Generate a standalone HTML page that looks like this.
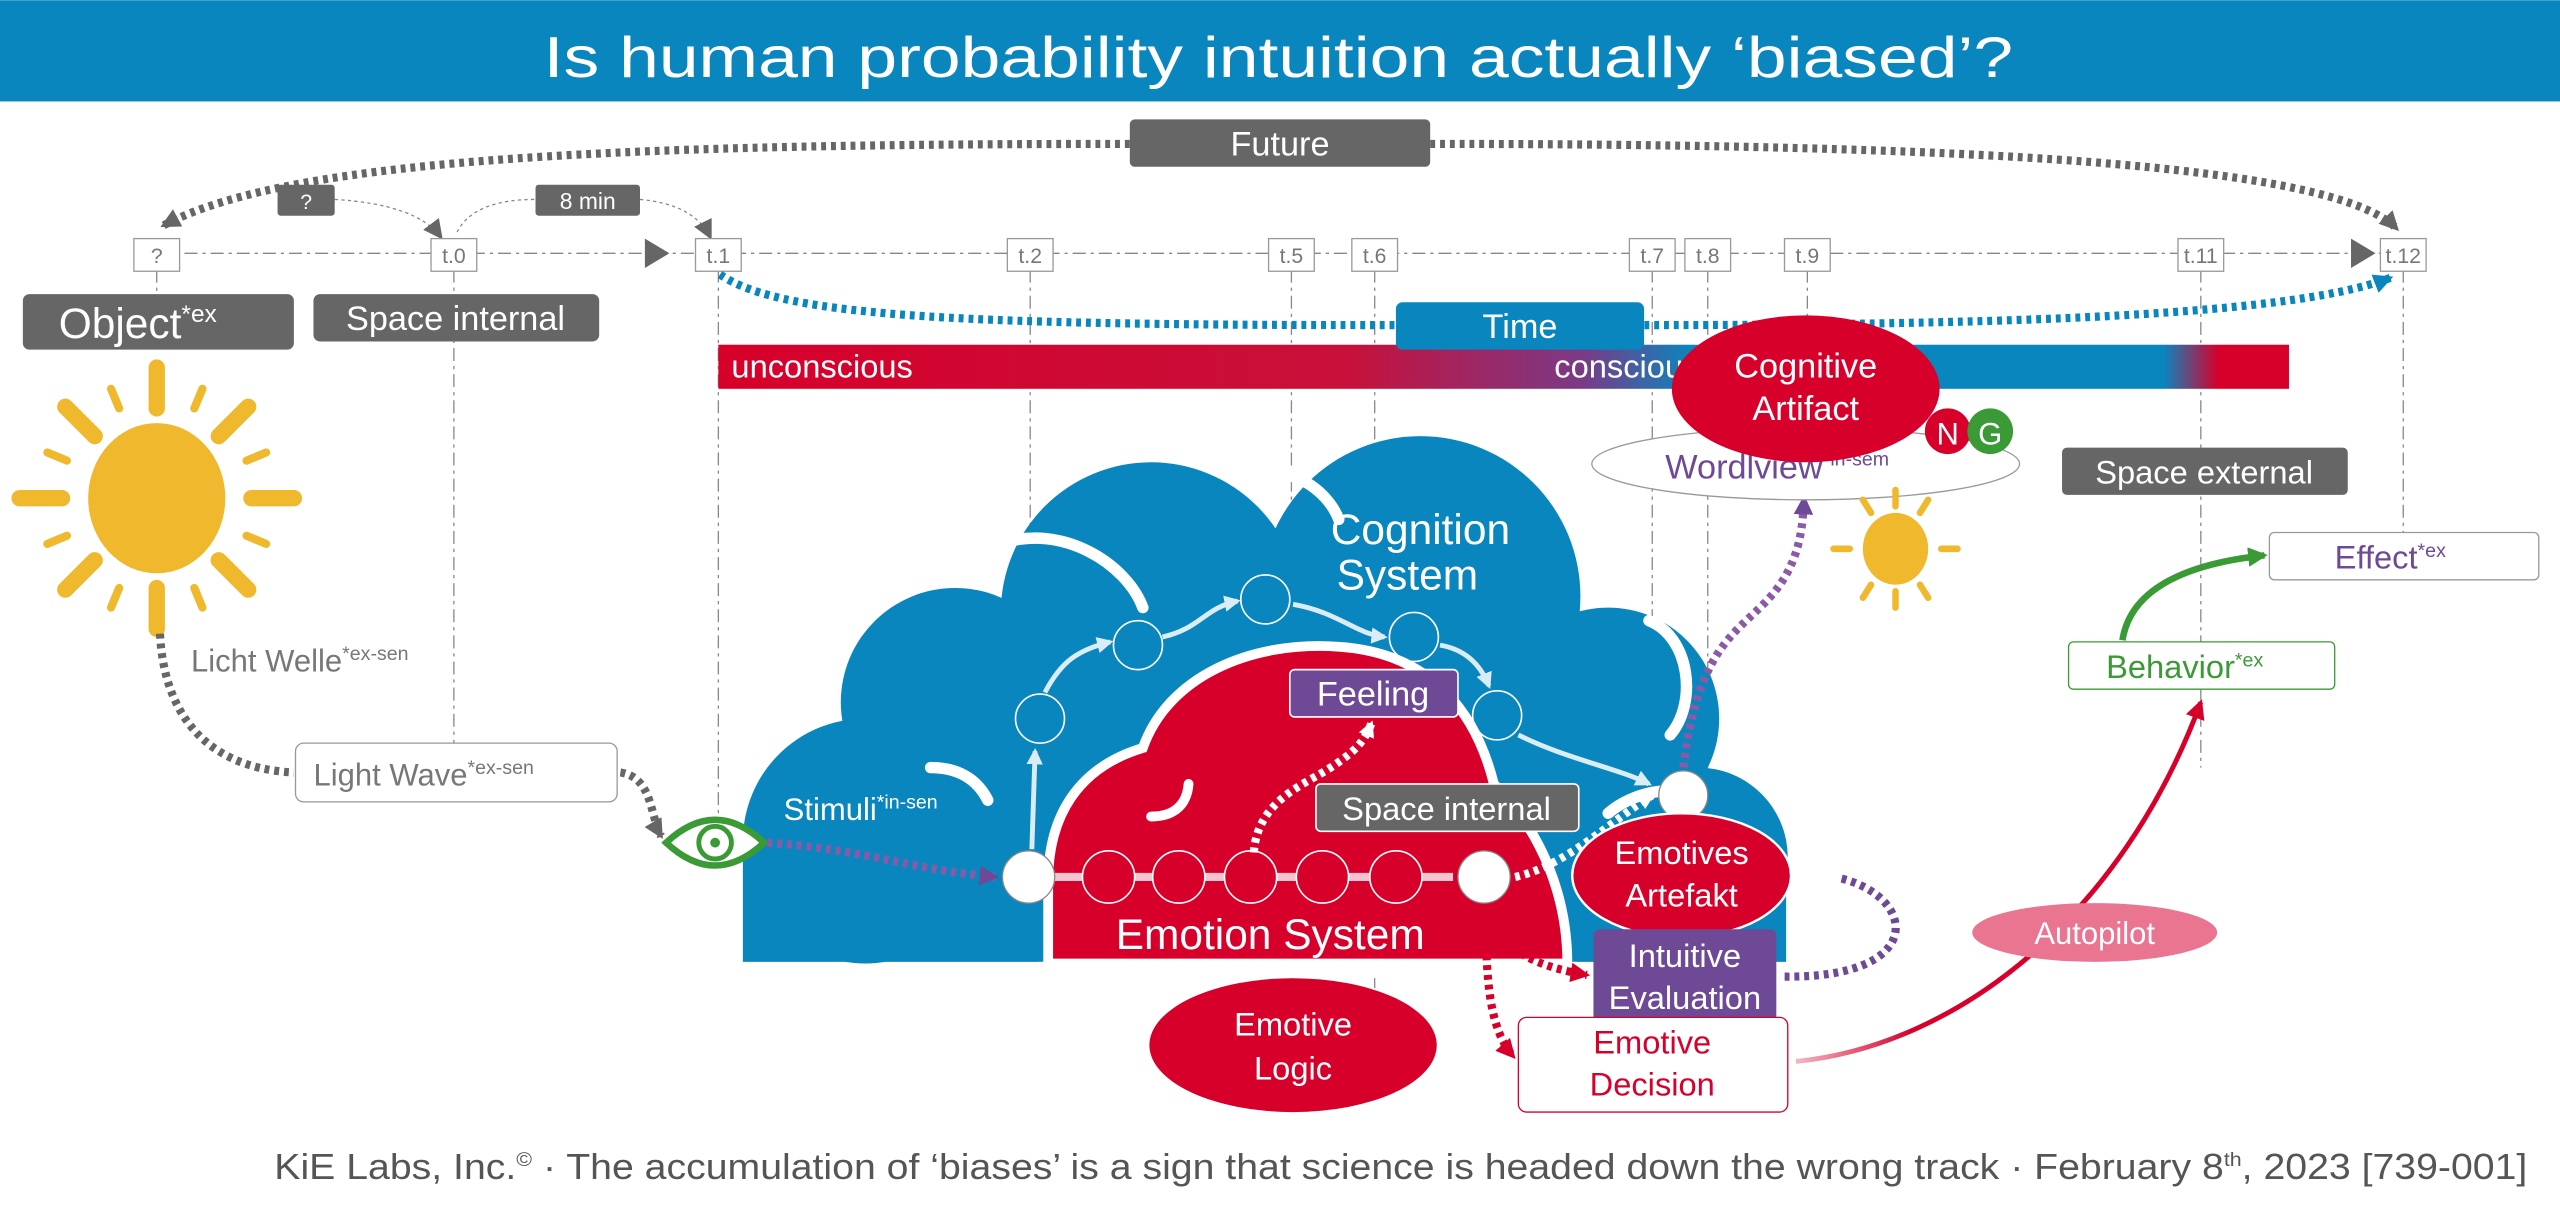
<!DOCTYPE html>
<html><head><meta charset="utf-8"><style>
html,body{margin:0;padding:0;background:#fff;}
svg{display:block;font-family:"Liberation Sans",sans-serif;}
</style></head><body>
<svg width="2560" height="1207" viewBox="0 0 1568 739" xmlns="http://www.w3.org/2000/svg">
<defs>
<linearGradient id="bar" x1="440" x2="1402" y1="0" y2="0" gradientUnits="userSpaceOnUse">
<stop offset="0" stop-color="#d6002a"/><stop offset="0.4" stop-color="#c8103a"/>
<stop offset="0.55" stop-color="#7a3a86"/><stop offset="0.62" stop-color="#0a86be"/>
<stop offset="0.92" stop-color="#0a86be"/><stop offset="0.955" stop-color="#d6002a"/><stop offset="1" stop-color="#d6002a"/>
</linearGradient>
<linearGradient id="redc" x1="1095" x2="1350" y1="0" y2="0" gradientUnits="userSpaceOnUse">
<stop offset="0" stop-color="#f5c4cf"/><stop offset="0.3" stop-color="#d6002a"/><stop offset="1" stop-color="#d6002a"/>
</linearGradient>
<marker id="ag" markerWidth="12" markerHeight="12" refX="10" refY="6" orient="auto" markerUnits="userSpaceOnUse"><path d="M0,0L12,6L0,12z" fill="#666"/></marker>
<marker id="agS" markerWidth="12" markerHeight="12" refX="10" refY="6" orient="auto" markerUnits="userSpaceOnUse"><path d="M0,0L12,6L0,12z" fill="#666"/></marker>
<marker id="ab" markerWidth="12" markerHeight="12" refX="10" refY="6" orient="auto" markerUnits="userSpaceOnUse"><path d="M0,0L12,6L0,12z" fill="#0a86be"/></marker>
<marker id="ap" markerWidth="12" markerHeight="12" refX="10" refY="6" orient="auto" markerUnits="userSpaceOnUse"><path d="M0,0L12,6L0,12z" fill="#6e4a96"/></marker>
<marker id="ar" markerWidth="12" markerHeight="12" refX="10" refY="6" orient="auto" markerUnits="userSpaceOnUse"><path d="M0,0L12,6L0,12z" fill="#d6002a"/></marker>
<marker id="agr" markerWidth="12" markerHeight="12" refX="10" refY="6" orient="auto" markerUnits="userSpaceOnUse"><path d="M0,0L12,6L0,12z" fill="#3a9a35"/></marker>
<marker id="aw" markerWidth="10" markerHeight="10" refX="8" refY="5" orient="auto" markerUnits="userSpaceOnUse"><path d="M0,0L10,5L0,10z" fill="#fff"/></marker>
</defs>

<!-- title -->
<rect x="0" y="0" width="1568" height="62" fill="#0a86be"/>
<text x="333" y="47" font-size="35" fill="#fff" textLength="900" lengthAdjust="spacingAndGlyphs">Is human probability intuition actually ‘biased’?</text>

<!-- timeline verticals -->
<g stroke="#888" stroke-width="0.8" stroke-dasharray="8,3,2,3" fill="none">
<line x1="96" y1="165" x2="96" y2="180"/>
<line x1="278" y1="165" x2="278" y2="455"/>
<line x1="440" y1="165" x2="440" y2="515"/>
<line x1="631" y1="165" x2="631" y2="520"/>
<line x1="791" y1="165" x2="791" y2="610"/>
<line x1="842" y1="165" x2="842" y2="640"/>
<line x1="1012" y1="165" x2="1012" y2="580"/>
<line x1="1046" y1="165" x2="1046" y2="470"/>
<line x1="1107" y1="165" x2="1107" y2="215"/>
<line x1="1348" y1="165" x2="1348" y2="470"/>
<line x1="1472" y1="165" x2="1472" y2="326"/>
<line x1="113" y1="155" x2="1460" y2="155"/>
</g>
<path d="M395,146L410,155L395,164z" fill="#666"/>
<path d="M1440,146L1455,155L1440,164z" fill="#666"/>

<!-- thin arcs -->
<g stroke="#888" stroke-width="0.8" stroke-dasharray="2,2" fill="none">
<path d="M205,122 Q255,125 270,145" marker-end="url(#agS)"/>
<path d="M280,142 Q290,122 328,122"/>
<path d="M392,122 Q425,125 435,145" marker-end="url(#agS)"/>
</g>

<!-- Future arc -->
<g stroke="#666" stroke-width="5" stroke-dasharray="3,3" fill="none">
<path d="M692,88 C400,88 180,95 100,138" marker-end="url(#ag)"/>
<path d="M876,88 C1200,88 1430,100 1468,140" marker-end="url(#ag)"/>
</g>
<rect x="692" y="73" width="184" height="29" rx="3" fill="#666"/>
<text x="784" y="95" font-size="21" fill="#fff" text-anchor="middle">Future</text>
<rect x="170" y="113" width="35" height="19" rx="2" fill="#666"/>
<text x="187.5" y="128" font-size="13" fill="#fff" text-anchor="middle">?</text>
<rect x="328" y="113" width="64" height="19" rx="2" fill="#666"/>
<text x="360" y="128" font-size="14" fill="#fff" text-anchor="middle">8 min</text>

<!-- time boxes -->
<g font-size="13" fill="#777" text-anchor="middle">
<g fill="#fff" stroke="#999" stroke-width="0.8">
<rect x="82" y="146" width="28" height="20"/><rect x="264" y="146" width="28" height="20"/>
<rect x="426" y="146" width="28" height="20"/><rect x="617" y="146" width="28" height="20"/>
<rect x="777" y="146" width="28" height="20"/><rect x="828" y="146" width="28" height="20"/>
<rect x="998" y="146" width="28" height="20"/><rect x="1032" y="146" width="28" height="20"/>
<rect x="1093" y="146" width="28" height="20"/><rect x="1334" y="146" width="28" height="20"/>
<rect x="1458" y="146" width="28" height="20"/>
</g>
<text x="96" y="161">?</text><text x="278" y="161">t.0</text><text x="440" y="161">t.1</text>
<text x="631" y="161">t.2</text><text x="791" y="161">t.5</text><text x="842" y="161">t.6</text>
<text x="1012" y="161">t.7</text><text x="1046" y="161">t.8</text><text x="1107" y="161">t.9</text>
<text x="1348" y="161">t.11</text><text x="1472" y="161">t.12</text>
</g>

<!-- Time arc -->
<path d="M441,168 C480,195 600,199 860,199 L1000,199 C1200,199 1400,195 1464,170" stroke="#0a86be" stroke-width="5" stroke-dasharray="3,3" fill="none" marker-end="url(#ab)"/>

<!-- Object, Space internal -->
<rect x="14" y="180" width="166" height="34" rx="4" fill="#666"/>
<text x="36" y="207" font-size="26" fill="#fff">Object<tspan font-size="15" dy="-10">*ex</tspan></text>
<rect x="192" y="180" width="175" height="29" rx="4" fill="#666"/>
<text x="279" y="202" font-size="21" fill="#fff" text-anchor="middle">Space internal</text>

<!-- bar -->
<rect x="440" y="211" width="962" height="27" fill="url(#bar)"/>
<text x="448" y="231" font-size="20" fill="#fff">unconscious</text>
<text x="952" y="231" font-size="20" fill="#fff">conscious</text>
<rect x="855" y="185" width="152" height="29" rx="4" fill="#0a86be"/>
<text x="931" y="207" font-size="21" fill="#fff" text-anchor="middle">Time</text>

<!-- sun left -->
<g stroke="#f0b82d" stroke-linecap="round" transform="translate(96,305)">
<g stroke-width="10">
<line x1="0" y1="-55" x2="0" y2="-80"/><line x1="0" y1="55" x2="0" y2="80"/>
<line x1="-58" y1="0" x2="-84" y2="0"/><line x1="58" y1="0" x2="84" y2="0"/>
<line x1="38" y1="-38" x2="56" y2="-56"/><line x1="-38" y1="-38" x2="-56" y2="-56"/>
<line x1="38" y1="38" x2="56" y2="56"/><line x1="-38" y1="38" x2="-56" y2="56"/>
</g>
<g stroke-width="5">
<line x1="23" y1="-55" x2="28" y2="-67"/><line x1="-23" y1="-55" x2="-28" y2="-67"/>
<line x1="23" y1="55" x2="28" y2="67"/><line x1="-23" y1="55" x2="-28" y2="67"/>
<line x1="55" y1="-23" x2="67" y2="-28"/><line x1="-55" y1="-23" x2="-67" y2="-28"/>
<line x1="55" y1="23" x2="67" y2="28"/><line x1="-55" y1="23" x2="-67" y2="28"/>
</g>
</g>
<ellipse cx="96" cy="305" rx="42" ry="46" fill="#f0b82d"/>

<!-- light wave connector -->
<path d="M98,388 C100,430 120,470 180,473" stroke="#666" stroke-width="5" stroke-dasharray="3,3" fill="none"/>
<path d="M380,473 C400,476 398,500 405,512" stroke="#666" stroke-width="5" stroke-dasharray="3,3" fill="none" marker-end="url(#ag)"/>
<text x="117" y="411" font-size="19" fill="#777">Licht Welle<tspan font-size="12" dy="-7">*ex-sen</tspan></text>
<rect x="181" y="455" width="197" height="36" rx="5" fill="#fff" stroke="#999" stroke-width="0.8"/>
<text x="192" y="481" font-size="19" fill="#777">Light Wave<tspan font-size="12" dy="-7">*ex-sen</tspan></text>

<!-- clouds -->
<g fill="#0a86be">
<circle cx="530" cy="515" r="75"/>
<circle cx="585" cy="430" r="70"/>
<circle cx="705" cy="375" r="92"/>
<circle cx="870" cy="365" r="98"/>
<circle cx="985" cy="440" r="68"/>
<circle cx="1040" cy="525" r="55"/>
<rect x="455" y="515" width="639" height="74"/>
<rect x="560" y="420" width="440" height="120"/>
</g>
<g stroke="#fff" stroke-width="7" fill="none" stroke-linecap="round">
<path d="M570,470 C590,470 600,480 605,490"/>
<path d="M613,333 C650,320 690,345 700,372"/>
<path d="M780,290 C800,290 815,305 820,318"/>
<path d="M1023,450 C1040,430 1035,390 1010,380"/>
<path d="M985,498 C1000,485 1025,480 1040,488"/>
</g>
<path d="M642,590 L642,540 C642,500 660,470 700,458 C715,415 765,392 820,396 C880,400 905,440 915,480 C945,510 960,550 960,590 Z" fill="#d6002a" stroke="#fff" stroke-width="6"/>
<rect x="636" y="589" width="330" height="10" fill="#fff"/>
<g stroke="#fff" stroke-width="6" fill="none" stroke-linecap="round">
<path d="M705,500 C720,500 727,492 728,480"/>
</g>

<!-- cognition chain -->
<g stroke="#fff" stroke-width="3" fill="none" opacity="0.85">
<path d="M632,520 L634,460" marker-end="url(#aw)"/>
<path d="M640,424 C650,405 660,398 680,393" marker-end="url(#aw)"/>
<path d="M712,390 C735,385 738,372 758,368" marker-end="url(#aw)"/>
<path d="M792,370 C820,375 830,388 848,390" marker-end="url(#aw)"/>
<path d="M882,395 C900,398 908,410 912,420" marker-end="url(#aw)"/>
<path d="M930,450 C960,465 990,470 1010,480" marker-end="url(#aw)"/>
</g>
<g fill="none" stroke="#fff" stroke-width="1">
<circle cx="637" cy="440" r="15"/><circle cx="697" cy="395" r="15"/>
<circle cx="775" cy="367" r="15"/><circle cx="866" cy="390" r="15"/>
<circle cx="917" cy="438" r="15"/>
</g>
<text x="870" y="333" font-size="26" fill="#fff" text-anchor="middle">Cognition</text>
<text x="862" y="361" font-size="26" fill="#fff" text-anchor="middle">System</text>

<!-- emotion chain -->
<line x1="646" y1="537" x2="890" y2="537" stroke="#f5c4cf" stroke-width="5"/>
<g fill="#d6002a" stroke="#fff" stroke-width="1">
<circle cx="679" cy="537" r="16"/><circle cx="722" cy="537" r="16"/>
<circle cx="766" cy="537" r="16"/><circle cx="810" cy="537" r="16"/><circle cx="855" cy="537" r="16"/>
</g>
<g fill="#fff" stroke="#888" stroke-width="0.8">
<circle cx="630" cy="537" r="16"/><circle cx="909" cy="537" r="16"/><circle cx="1031" cy="487" r="15"/>
</g>
<text x="778" y="581" font-size="26" fill="#fff" text-anchor="middle">Emotion System</text>
<text x="480" y="502" font-size="19" fill="#fff">Stimuli<tspan font-size="12" dy="-7">*in-sen</tspan></text>

<!-- eye -->
<g transform="translate(438,516)">
<path d="M-30,0 Q0,-28 30,0 Q0,28 -30,0Z" fill="#fff" stroke="#3a9a35" stroke-width="4"/>
<circle r="10" fill="none" stroke="#3a9a35" stroke-width="3"/>
<circle r="3" fill="#3a9a35"/>
</g>

<!-- dotted connectors -->
<path d="M470,516 C530,520 560,533 610,537" stroke="#8a5aa6" stroke-width="5" stroke-dasharray="3,3" fill="none" marker-end="url(#ap)"/>
<path d="M768,522 C770,490 800,480 815,470 C830,460 835,455 840,443" stroke="#fff" stroke-width="5" stroke-dasharray="3,3" fill="none" marker-end="url(#aw)"/>
<path d="M928,537 C960,530 990,500 1012,487" stroke="#fff" stroke-width="5" stroke-dasharray="3,3" fill="none" marker-end="url(#aw)"/>
<path d="M1031,470 C1040,400 1060,390 1080,370 C1100,350 1104,330 1105,305" stroke="#8a5aa6" stroke-width="5" stroke-dasharray="3,3" fill="none" marker-end="url(#ap)"/>
<path d="M912,555 C915,580 940,592 972,597" stroke="#d6002a" stroke-width="5" stroke-dasharray="3,3" fill="none" marker-end="url(#ar)"/>
<path d="M910,555 C910,600 912,630 927,647" stroke="#d6002a" stroke-width="5" stroke-dasharray="3,3" fill="none" marker-end="url(#ar)"/>
<path d="M1128,538 C1175,550 1180,600 1090,598" stroke="#6e4a96" stroke-width="5" stroke-dasharray="3,3" fill="none"/>

<!-- Feeling, Space internal 2 -->
<rect x="790" y="410" width="103" height="29" rx="3" fill="#6e4a96" stroke="#fff" stroke-width="1"/>
<text x="841" y="432" font-size="21" fill="#fff" text-anchor="middle">Feeling</text>
<rect x="806" y="480" width="161" height="29" rx="3" fill="#666" stroke="#fff" stroke-width="1"/>
<text x="886" y="502" font-size="20" fill="#fff" text-anchor="middle">Space internal</text>

<!-- Emotives Artefakt -->
<ellipse cx="1030" cy="536" rx="67" ry="38" fill="#d6002a" stroke="#fff" stroke-width="1.5"/>
<text x="1030" y="529" font-size="20" fill="#fff" text-anchor="middle">Emotives</text>
<text x="1030" y="555" font-size="20" fill="#fff" text-anchor="middle">Artefakt</text>
<rect x="976" y="569" width="112" height="57" rx="4" fill="#6e4a96"/>
<text x="1032" y="592" font-size="20" fill="#fff" text-anchor="middle">Intuitive</text>
<text x="1032" y="618" font-size="20" fill="#fff" text-anchor="middle">Evaluation</text>

<!-- Emotive Logic -->
<ellipse cx="792" cy="640" rx="88" ry="41" fill="#d6002a"/>
<text x="792" y="634" font-size="20" fill="#fff" text-anchor="middle">Emotive</text>
<text x="792" y="661" font-size="20" fill="#fff" text-anchor="middle">Logic</text>

<!-- Emotive Decision -->
<path d="M1100,650 C1200,640 1300,560 1348,430" stroke="url(#redc)" stroke-width="3" fill="none" marker-end="url(#ar)"/>
<rect x="930" y="623" width="165" height="58" rx="5" fill="#fff" stroke="#d6002a" stroke-width="0.8"/>
<text x="1012" y="645" font-size="20" fill="#d6002a" text-anchor="middle">Emotive</text>
<text x="1012" y="671" font-size="20" fill="#d6002a" text-anchor="middle">Decision</text>

<!-- Autopilot -->
<ellipse cx="1283" cy="571" rx="75" ry="18" fill="#ea7590"/>
<text x="1283" y="578" font-size="19" fill="#fff" text-anchor="middle">Autopilot</text>

<!-- Behavior / Effect -->
<path d="M1300,392 C1305,360 1340,345 1387,340" stroke="#3a9a35" stroke-width="4" fill="none" marker-end="url(#agr)"/>
<rect x="1267" y="393" width="163" height="29" rx="3" fill="#fff" stroke="#3a9a35" stroke-width="0.8"/>
<text x="1290" y="415" font-size="20" fill="#3a9a35">Behavior<tspan font-size="12" dy="-7">*ex</tspan></text>
<rect x="1390" y="326" width="165" height="29" rx="3" fill="#fff" stroke="#999" stroke-width="0.8"/>
<text x="1430" y="348" font-size="20" fill="#6e4a96">Effect<tspan font-size="12" dy="-7">*ex</tspan></text>
<rect x="1263" y="274" width="175" height="29" rx="3" fill="#666"/>
<text x="1350" y="296" font-size="20" fill="#fff" text-anchor="middle">Space external</text>

<!-- Wordlview / Cognitive artifact -->
<ellipse cx="1106" cy="284" rx="131" ry="22" fill="#fff" stroke="#999" stroke-width="0.8"/>
<text x="1020" y="293" font-size="21" fill="#6e4a96">Wordlview<tspan font-size="12" dy="-8">*in-sem</tspan></text>
<ellipse cx="1106" cy="238" rx="82" ry="45" fill="#d6002a"/>
<text x="1106" y="231" font-size="21" fill="#fff" text-anchor="middle">Cognitive</text>
<text x="1106" y="257" font-size="21" fill="#fff" text-anchor="middle">Artifact</text>
<circle cx="1193" cy="264" r="14" fill="#d6002a"/>
<text x="1193" y="272" font-size="19" fill="#fff" text-anchor="middle">N</text>
<circle cx="1219" cy="264" r="14" fill="#3a9a35"/>
<text x="1219" y="272" font-size="19" fill="#fff" text-anchor="middle">G</text>

<!-- small sun -->
<g stroke="#f0b82d" stroke-linecap="round" stroke-width="4" transform="translate(1161,336)">
<line x1="0" y1="-26" x2="0" y2="-36"/><line x1="0" y1="26" x2="0" y2="36"/>
<line x1="-28" y1="0" x2="-38" y2="0"/><line x1="28" y1="0" x2="38" y2="0"/>
<line x1="15" y1="-22" x2="20" y2="-30"/><line x1="-15" y1="-22" x2="-20" y2="-30"/>
<line x1="15" y1="22" x2="20" y2="30"/><line x1="-15" y1="22" x2="-20" y2="30"/>
</g>
<ellipse cx="1161" cy="336" rx="20" ry="22" fill="#f0b82d"/>

<!-- footer -->
<text x="168" y="722" font-size="22" fill="#555" textLength="1380" lengthAdjust="spacingAndGlyphs">KiE Labs, Inc.<tspan font-size="12" dy="-8">©</tspan><tspan dy="8"> · The accumulation of ‘biases’ is a sign that science is headed down the wrong track · February 8</tspan><tspan font-size="12" dy="-8">th</tspan><tspan dy="8">, 2023 [739-001]</tspan></text>
</svg>
</body></html>
